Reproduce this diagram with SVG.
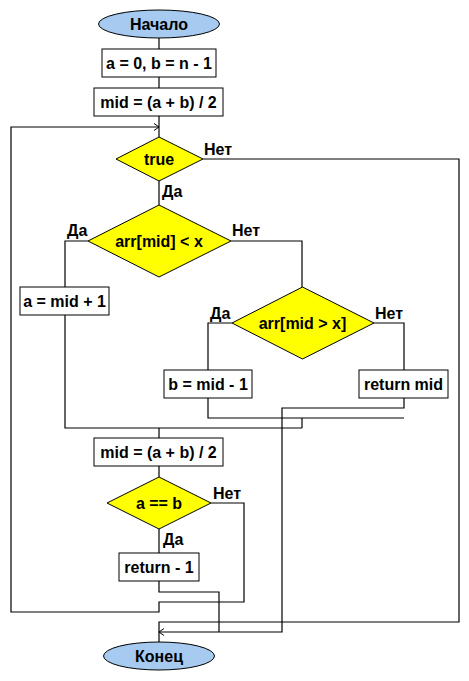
<svg xmlns="http://www.w3.org/2000/svg" width="469" height="681" viewBox="0 0 469 681">
<defs>
<style>
.t{font-family:"Liberation Sans",Arial,sans-serif;font-size:16px;font-weight:bold;fill:#000;text-anchor:middle}
.l{font-family:"Liberation Sans",Arial,sans-serif;font-size:16px;font-weight:bold;fill:#000}
.box{fill:#fff;stroke:#000;stroke-width:1}
.dia{fill:#ffff00;stroke:#000;stroke-width:1}
.term{fill:#a6caf0;stroke:#000;stroke-width:1}
.c{fill:none;stroke:#000;stroke-width:1.2}
</style>
<marker id="arr" markerWidth="6" markerHeight="8" refX="5" refY="4" orient="auto" markerUnits="userSpaceOnUse">
<path d="M0,0.5 L5,4 L0,7.5" fill="none" stroke="#000" stroke-width="1"/>
</marker>
</defs>
<rect width="469" height="681" fill="#fff"/>
<g id="connectors">
<path class="c" d="M159,38 V49"/>
<path class="c" d="M159,77 V88"/>
<path class="c" d="M159,116 V137"/>
<path class="c" d="M159,181 V205"/>
<path class="c" d="M203,159 H459 V622 H159 V642"/>
<path class="c" d="M88,241 H65 V287"/>
<path class="c" d="M231,241 H302 V287"/>
<path class="c" d="M232,323 H208 V370"/>
<path class="c" d="M374,323 H404 V370"/>
<path class="c" d="M65,315 V428 H302"/>
<path class="c" d="M208,398 V418 H404"/>
<path class="c" d="M302,418 V428"/>
<path class="c" d="M404,398 V408 H282 V632 H159" marker-end="url(#arr)"/>
<path class="c" d="M159,428 V438"/>
<path class="c" d="M159,466 V477"/>
<path class="c" d="M159,529 V553"/>
<path class="c" d="M211,503 H244 V602 H159 V612 H11 V127 H159" marker-end="url(#arr)"/>
<path class="c" d="M159,581 V592 H219 V632"/>
</g>
<g id="start">
<ellipse class="term" cx="159" cy="24" rx="60.5" ry="14"/>
<text class="t" x="159" y="30">Начало</text>
</g>
<g id="init">
<rect class="box" x="102" y="49" width="114" height="28"/>
<text class="t" x="159" y="69">a = 0, b = n - 1</text>
</g>
<g id="mid1">
<rect class="box" x="94" y="88" width="129" height="28"/>
<text class="t" x="158.5" y="108">mid = (a + b) / 2</text>
</g>
<g id="cond-true">
<polygon class="dia" points="116,159 159,137 203,159 159,181"/>
<text class="t" x="159" y="165">true</text>
<text class="l" x="204" y="155">Нет</text>
<text class="l" x="162" y="197">Да</text>
</g>
<g id="cond-less">
<polygon class="dia" points="88,241 159,205 231,241 159,277"/>
<text class="t" x="159" y="247">arr[mid] &lt; x</text>
<text class="l" x="67" y="236">Да</text>
<text class="l" x="232" y="236">Нет</text>
</g>
<g id="a-inc">
<rect class="box" x="20" y="287" width="89" height="28"/>
<text class="t" x="64.5" y="307">a = mid + 1</text>
</g>
<g id="cond-greater">
<polygon class="dia" points="232,323 302.5,287 374,323 302.5,359"/>
<text class="t" x="302.5" y="329">arr[mid &gt; x]</text>
<text class="l" x="210" y="319">Да</text>
<text class="l" x="375" y="319">Нет</text>
</g>
<g id="b-dec">
<rect class="box" x="164" y="370" width="88" height="28"/>
<text class="t" x="208" y="390">b = mid - 1</text>
</g>
<g id="ret-mid">
<rect class="box" x="359" y="370" width="89" height="28"/>
<text class="t" x="403.5" y="390">return mid</text>
</g>
<g id="mid2">
<rect class="box" x="94" y="438" width="129" height="28"/>
<text class="t" x="158.5" y="458">mid = (a + b) / 2</text>
</g>
<g id="cond-eq">
<polygon class="dia" points="107,503 159,477 211,503 159,529"/>
<text class="t" x="159" y="509">a == b</text>
<text class="l" x="213" y="499">Нет</text>
<text class="l" x="163" y="545">Да</text>
</g>
<g id="ret-neg">
<rect class="box" x="119" y="553" width="80" height="28"/>
<text class="t" x="159" y="573">return - 1</text>
</g>
<g id="end">
<ellipse class="term" cx="159" cy="656" rx="55.5" ry="14"/>
<text class="t" x="159" y="662">Конец</text>
</g>
</svg>
